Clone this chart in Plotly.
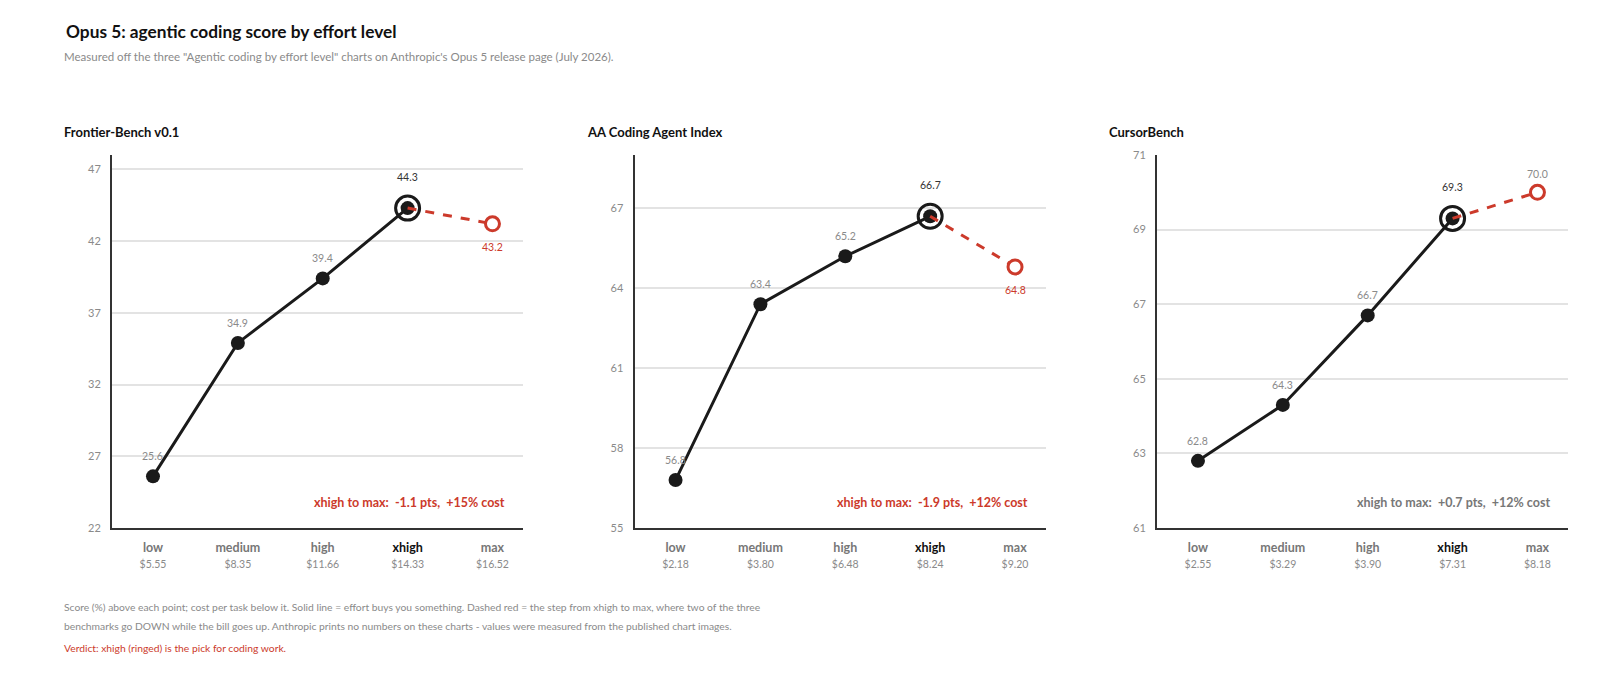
import plotly.graph_objects as go
from plotly.subplots import make_subplots

# effort levels and cost per task
levels = ["low", "medium", "high", "xhigh", "max"]

bench_names = ["Frontier-Bench v0.1", "AA Coding Agent Index", "CursorBench"]

frontier_scores = [25.6, 34.9, 39.4, 44.3, 43.2]
aa_scores = [56.8, 63.4, 65.2, 66.7, 64.8]
cursor_scores = [62.8, 64.3, 66.7, 69.3, 70.0]

frontier_costs = ["$5.55", "$8.35", "$11.66", "$14.33", "$16.52"]
aa_costs = ["$2.18", "$3.80", "$6.48", "$8.24", "$9.20"]
cursor_costs = ["$2.55", "$3.29", "$3.90", "$7.31", "$8.18"]

notes = [
    "xhigh to max:  -1.1 pts,  +15% cost",
    "xhigh to max:  -1.9 pts,  +12% cost",
    "xhigh to max:  +0.7 pts,  +12% cost",
]

y_ranges = [[22, 48], [55, 69], [61, 71]]
y_ticks = [[22, 27, 32, 37, 42, 47], [55, 58, 61, 64, 67], [61, 63, 65, 67, 69, 71]]

FONT = "Lato, Open Sans, sans-serif"
RED = "#cc3a2b"
INK = "#1a1a1a"
GREY = "#8a8a8a"

scores = [frontier_scores, aa_scores, cursor_scores]
costs = [frontier_costs, aa_costs, cursor_costs]

fig = make_subplots(rows=1, cols=3, horizontal_spacing=0.0)

domains = [[0.0, 0.2823], [0.3589, 0.6412], [0.7177, 1.0]]

for i in range(3):
    s = scores[i]
    c = costs[i]
    col = i + 1
    ax = "" if i == 0 else str(i + 1)

    # solid line low -> xhigh
    fig.add_trace(go.Scatter(
        x=levels[:4], y=s[:4], mode="lines+markers",
        line=dict(color=INK, width=3),
        marker=dict(size=14, color=INK),
        hoverinfo="skip", showlegend=False), row=1, col=col)

    # dashed red xhigh -> max
    fig.add_trace(go.Scatter(
        x=levels[3:], y=s[3:], mode="lines",
        line=dict(color=RED, width=3, dash="dash"),
        hoverinfo="skip", showlegend=False), row=1, col=col)

    # ring around xhigh
    fig.add_trace(go.Scatter(
        x=[levels[3]], y=[s[3]], mode="markers",
        marker=dict(size=24, color="rgba(0,0,0,0)", line=dict(color=INK, width=3)),
        hoverinfo="skip", showlegend=False), row=1, col=col)

    # open red max point
    fig.add_trace(go.Scatter(
        x=[levels[4]], y=[s[4]], mode="markers",
        marker=dict(size=14, color="white", line=dict(color=RED, width=3)),
        hoverinfo="skip", showlegend=False), row=1, col=col)

    # score labels
    for j, lv in enumerate(levels):
        if j == 4:
            up = s[4] > s[3]
            shift = 18 if up else -23
            colr = GREY if up else RED
        elif j == 3:
            shift = 31
            colr = "#333333"
        else:
            shift = 20
            colr = GREY
        fig.add_annotation(x=lv, y=s[j], xref="x" + ax, yref="y" + ax,
                           text=f"{s[j]:.1f}", showarrow=False, yshift=shift,
                           font=dict(family=FONT, size=10.5, color=colr))

    # the xhigh -> max note
    fig.add_annotation(x=1, y=0.069, xref=f"x{ax} domain", yref=f"y{ax} domain",
                       xanchor="right", yanchor="middle", showarrow=False, xshift=-16,
                       text=f"<b>{notes[i]}</b>",
                       font=dict(family=FONT, size=12.5, color=RED if i < 2 else "#777777"))

    # panel title
    fig.add_annotation(x=domains[i][0] - 0.034, y=1.0625, xref="paper", yref="paper",
                       xanchor="left", yanchor="middle", showarrow=False,
                       text=f"<b>{bench_names[i]}</b>",
                       font=dict(family=FONT, size=13, color="#111111"))

    ticktext = []
    for lv, cost in zip(levels, c):
        name_col = "#111111" if lv == "xhigh" else "#777777"
        ticktext.append(f"<b><span style='color:{name_col}'>{lv}</span></b><br>"
                        f"<span style='font-size:10.5px;color:{GREY}'>{cost}</span>")

    fig.update_xaxes(row=1, col=col, domain=domains[i],
                     type="category", range=[-0.483, 4.36],
                     tickmode="array", tickvals=levels, ticktext=ticktext,
                     ticks="", showgrid=False, zeroline=False, ticklabelstandoff=7,
                     showline=True, linecolor="#333333", linewidth=2,
                     tickfont=dict(family=FONT, size=12.5, color="#777777"))
    fig.update_yaxes(row=1, col=col, range=y_ranges[i],
                     tickmode="array", tickvals=y_ticks[i], ticklabelstandoff=7,
                     ticks="", showgrid=True, gridcolor="#e3e3e3", gridwidth=1.5,
                     zeroline=False, showline=True, linecolor="#333333", linewidth=2,
                     tickfont=dict(family=FONT, size=11, color=GREY))

fig.update_layout(
    width=1584, height=657,
    paper_bgcolor="white", plot_bgcolor="white",
    margin=dict(l=104, r=24, t=147, b=137),
    font=dict(family=FONT),
)

# header
fig.add_annotation(
    x=-0.0333, y=1.330, xref="paper", yref="paper", xanchor="left", yanchor="middle",
    showarrow=False, text="<b>Opus 5: agentic coding score by effort level</b>",
    font=dict(family=FONT, size=17.3, color="#111111"))
fig.add_annotation(
    x=-0.034, y=1.263, xref="paper", yref="paper", xanchor="left", yanchor="middle",
    showarrow=False,
    text="Measured off the three \"Agentic coding by effort level\" charts on Anthropic's Opus 5 release page (July 2026).",
    font=dict(family=FONT, size=11.5, color="#8a8a8a"))

# footer
footer_lines = [
    "Score (%) above each point; cost per task below it. Solid line = effort buys you something. "
    "Dashed red = the step from xhigh to max, where two of the three",
    "benchmarks go DOWN while the bill goes up. Anthropic prints no numbers on these charts - "
    "values were measured from the published chart images.",
]
for k, line in enumerate(footer_lines):
    fig.add_annotation(
        x=-0.034, y=[-0.2118, -0.2627][k], xref="paper", yref="paper",
        xanchor="left", yanchor="middle", showarrow=False, text=line,
        font=dict(family=FONT, size=10.3, color="#8a8a8a"))
fig.add_annotation(
    x=-0.034, y=-0.3217, xref="paper", yref="paper", xanchor="left", yanchor="middle",
    showarrow=False, text="Verdict: xhigh (ringed) is the pick for coding work.",
    font=dict(family=FONT, size=10.3, color=RED))

fig.write_html("out.html")
